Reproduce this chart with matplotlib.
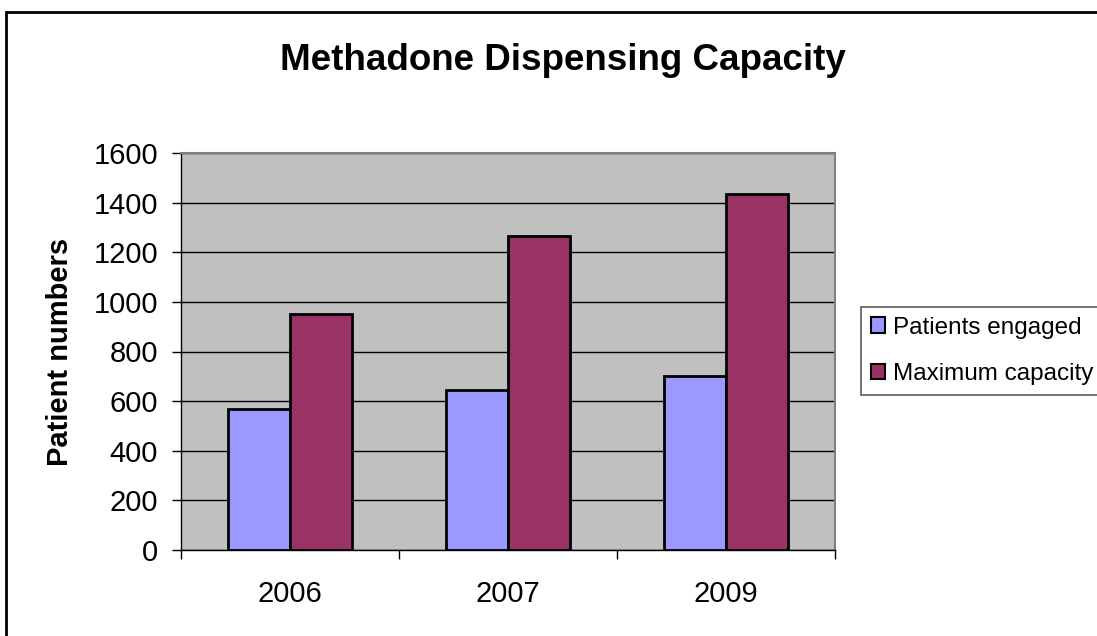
import matplotlib
matplotlib.use("Agg")
import matplotlib.pyplot as plt
import matplotlib.patches as mpatches
import numpy as np

plt.rcParams['font.family'] = ['Liberation Sans', 'DejaVu Sans']

years = ["2006", "2007", "2009"]
patients_engaged = [570, 645, 700]
maximum_capacity = [950, 1265, 1435]
series_names = ["Patients engaged", "Maximum capacity"]
yticks = [0, 200, 400, 600, 800, 1000, 1200, 1400, 1600]

W, H = 1097, 636
fig = plt.figure(figsize=(W/100, H/100), dpi=100)
fig.patch.set_facecolor('white')

# outer chart border
fig.patches.append(mpatches.Rectangle((6/W, -0.05), 1.2, 1 - 12/H + 0.05,
                                      transform=fig.transFigure, fill=False,
                                      edgecolor='black', linewidth=2))

ax = fig.add_axes([181/W, 1 - 550/H, (835-181)/W, (550-153)/H])
ax.set_facecolor('#C0C0C0')

x = np.arange(len(years))
bw = 1/3.5
ax.bar(x - bw/2, patients_engaged, width=bw, color='#9999FF', edgecolor='black',
       linewidth=2, label=series_names[0], zorder=3)
ax.bar(x + bw/2, maximum_capacity, width=bw, color='#993366', edgecolor='black',
       linewidth=2, label=series_names[1], zorder=3)

ax.set_xlim(-0.5, len(years) - 0.5)
ax.set_ylim(0, 1600)
ax.set_yticks(yticks)
ax.set_yticklabels([str(v) for v in yticks], fontsize=21)
ax.yaxis.grid(True, color='black', linewidth=1, zorder=1)
ax.set_axisbelow(True)

ax.set_xticks(x)
ax.set_xticklabels(years, fontsize=21)
ax.set_xticks(np.arange(-0.5, len(years)), minor=True)
ax.tick_params(axis='x', which='major', length=0, pad=21.5)
ax.tick_params(axis='x', which='minor', length=6.5, width=1, direction='out')
ax.tick_params(axis='y', length=6.5, width=1, direction='out', pad=10)

for s in ['top', 'right']:
    ax.spines[s].set_color('#808080')
    ax.spines[s].set_linewidth(1.5)
for s in ['left', 'bottom']:
    ax.spines[s].set_color('black')
    ax.spines[s].set_linewidth(1)

ax.set_ylabel("Patient numbers", fontsize=21, fontweight='bold')
ax.yaxis.set_label_coords(-(181-60)/(835-181), 0.5)
ax.yaxis.label.set_va('center')

fig.text(563/W, 1 - 60/H, "Methadone Dispensing Capacity", fontsize=26.5,
         fontweight='bold', ha='center', va='center')

leg = ax.legend(loc='upper left', bbox_to_anchor=(861/W, 1 - 307/H),
                bbox_transform=fig.transFigure, fontsize=17.5, frameon=True,
                fancybox=False, edgecolor='#333333', handlelength=0.6,
                handleheight=0.6, handletextpad=0.3, labelspacing=1.0,
                borderpad=0.4, borderaxespad=0)
leg.get_frame().set_linewidth(1.2)
for h in leg.legend_handles:
    h.set_linewidth(1.5)

fig.savefig("out.png", dpi=100)
